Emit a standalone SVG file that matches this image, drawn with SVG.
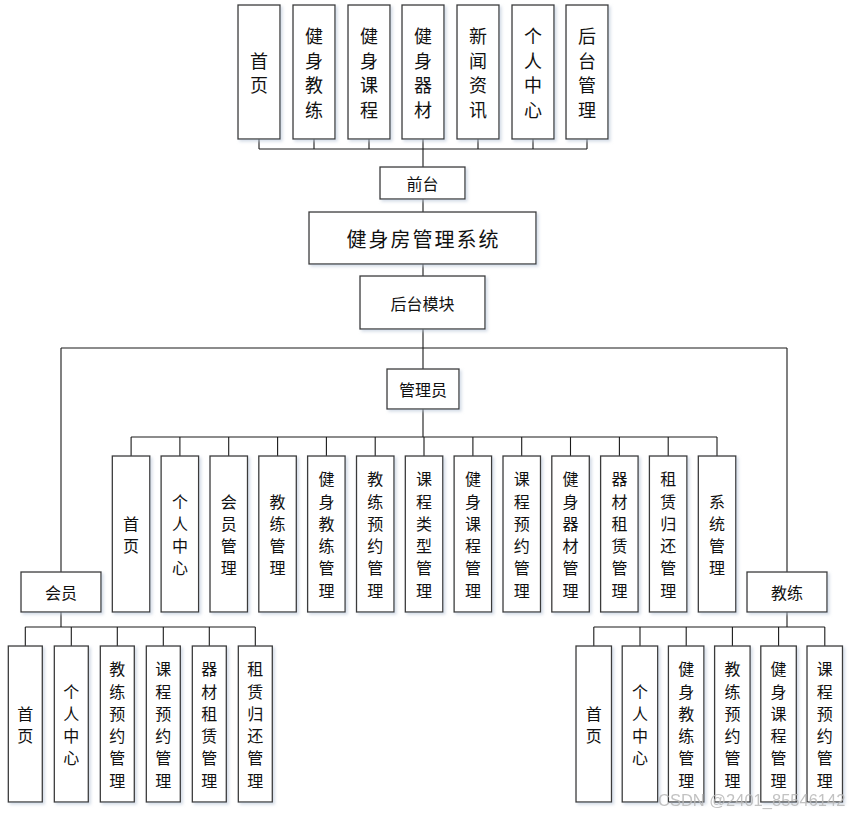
<svg xmlns="http://www.w3.org/2000/svg" width="852" height="815" viewBox="0 0 852 815">
<style>
.b{fill:#fff;stroke:#3a3a3a;stroke-width:1.3;filter:url(#sh)}
.t{font-family:"Noto Sans CJK SC","Noto Sans",sans-serif;fill:#111;text-anchor:middle;dominant-baseline:central}
.f18{font-size:18px}
.f16{font-size:16px}
.c{stroke:#1a1a1a;stroke-width:1.1;fill:none}
.wm{font-family:"Liberation Sans",Arial,sans-serif;font-size:16.5px;fill:#b8b8b8;opacity:0.85}
</style>
<defs>
<filter id="sh" x="-20%" y="-20%" width="140%" height="140%">
<feDropShadow dx="2" dy="2" stdDeviation="1.5" flood-color="#b9c6d8" flood-opacity="0.6"/>
</filter>
</defs>
<rect width="852" height="815" fill="#fff"/>
<g id="connectors" class="c">
<path d="M259 139V149M314 139V149M369 139V149M423 139V149M478 139V149M533 139V149M587 139V149M259 149H587M423 149V167"/>
<path d="M423 199V212M423 264V276M423 329V369M61 348H787M61 348V572M787 348V572"/>
<path d="M423 409V437M131.1 437H717M131.1 437V456M179.9 437V456M228.7 437V456M277.6 437V456M326.4 437V456M375.2 437V456M424 437V456M472.9 437V456M521.7 437V456M570.5 437V456M619.4 437V456M668.2 437V456M717 437V456"/>
<path d="M61 612V627M25.3 627H255.3M25.3 627V646M71.3 627V646M117.3 627V646M163.3 627V646M209.3 627V646M255.3 627V646"/>
<path d="M787 612V627M593.8 627H824.8M593.8 627V646M640 627V646M686.2 627V646M732.4 627V646M778.6 627V646M824.8 627V646"/>
</g>
<g id="f1"><rect class="b" x="238" y="5" width="42" height="134"/><text class="t f18"><tspan x="259" y="59.75">首</tspan><tspan x="259" y="84.25">页</tspan></text></g>
<g id="f2"><rect class="b" x="293" y="5" width="42" height="134"/><text class="t f18"><tspan x="314" y="35.25">健</tspan><tspan x="314" y="59.75">身</tspan><tspan x="314" y="84.25">教</tspan><tspan x="314" y="108.75">练</tspan></text></g>
<g id="f3"><rect class="b" x="348" y="5" width="42" height="134"/><text class="t f18"><tspan x="369" y="35.25">健</tspan><tspan x="369" y="59.75">身</tspan><tspan x="369" y="84.25">课</tspan><tspan x="369" y="108.75">程</tspan></text></g>
<g id="f4"><rect class="b" x="402" y="5" width="42" height="134"/><text class="t f18"><tspan x="423" y="35.25">健</tspan><tspan x="423" y="59.75">身</tspan><tspan x="423" y="84.25">器</tspan><tspan x="423" y="108.75">材</tspan></text></g>
<g id="f5"><rect class="b" x="457" y="5" width="42" height="134"/><text class="t f18"><tspan x="478" y="35.25">新</tspan><tspan x="478" y="59.75">闻</tspan><tspan x="478" y="84.25">资</tspan><tspan x="478" y="108.75">讯</tspan></text></g>
<g id="f6"><rect class="b" x="512" y="5" width="42" height="134"/><text class="t f18"><tspan x="533" y="35.25">个</tspan><tspan x="533" y="59.75">人</tspan><tspan x="533" y="84.25">中</tspan><tspan x="533" y="108.75">心</tspan></text></g>
<g id="f7"><rect class="b" x="566" y="5" width="42" height="134"/><text class="t f18"><tspan x="587" y="35.25">后</tspan><tspan x="587" y="59.75">台</tspan><tspan x="587" y="84.25">管</tspan><tspan x="587" y="108.75">理</tspan></text></g>
<g id="qiantai"><rect class="b" x="380" y="167" width="85" height="32"/><text class="t f16" x="422.5" y="183">前台</text></g>
<g id="system"><rect class="b" x="309" y="212" width="227" height="52"/><text class="t" x="423.5" y="238" style="font-size:20px;letter-spacing:2px">健身房管理系统</text></g>
<g id="houtai"><rect class="b" x="360" y="276" width="125" height="53"/><text class="t f16" x="422.5" y="302.5">后台模块</text></g>
<g id="admin"><rect class="b" x="387" y="369" width="72" height="40"/><text class="t f16" x="423" y="389">管理员</text></g>
<g id="member"><rect class="b" x="21" y="572" width="80" height="40"/><text class="t f16" x="61" y="592">会员</text></g>
<g id="coach"><rect class="b" x="747" y="572" width="80" height="40"/><text class="t f16" x="787" y="592">教练</text></g>
<g id="a1"><rect class="b" x="112.3" y="456" width="37.5" height="156"/><text class="t f16"><tspan x="131.1" y="522.85">首</tspan><tspan x="131.1" y="545.15">页</tspan></text></g>
<g id="a2"><rect class="b" x="161.1" y="456" width="37.5" height="156"/><text class="t f16"><tspan x="179.9" y="500.55">个</tspan><tspan x="179.9" y="522.85">人</tspan><tspan x="179.9" y="545.15">中</tspan><tspan x="179.9" y="567.45">心</tspan></text></g>
<g id="a3"><rect class="b" x="210" y="456" width="37.5" height="156"/><text class="t f16"><tspan x="228.7" y="500.55">会</tspan><tspan x="228.7" y="522.85">员</tspan><tspan x="228.7" y="545.15">管</tspan><tspan x="228.7" y="567.45">理</tspan></text></g>
<g id="a4"><rect class="b" x="258.8" y="456" width="37.5" height="156"/><text class="t f16"><tspan x="277.6" y="500.55">教</tspan><tspan x="277.6" y="522.85">练</tspan><tspan x="277.6" y="545.15">管</tspan><tspan x="277.6" y="567.45">理</tspan></text></g>
<g id="a5"><rect class="b" x="307.6" y="456" width="37.5" height="156"/><text class="t f16"><tspan x="326.4" y="478.25">健</tspan><tspan x="326.4" y="500.55">身</tspan><tspan x="326.4" y="522.85">教</tspan><tspan x="326.4" y="545.15">练</tspan><tspan x="326.4" y="567.45">管</tspan><tspan x="326.4" y="589.75">理</tspan></text></g>
<g id="a6"><rect class="b" x="356.5" y="456" width="37.5" height="156"/><text class="t f16"><tspan x="375.2" y="478.25">教</tspan><tspan x="375.2" y="500.55">练</tspan><tspan x="375.2" y="522.85">预</tspan><tspan x="375.2" y="545.15">约</tspan><tspan x="375.2" y="567.45">管</tspan><tspan x="375.2" y="589.75">理</tspan></text></g>
<g id="a7"><rect class="b" x="405.3" y="456" width="37.5" height="156"/><text class="t f16"><tspan x="424" y="478.25">课</tspan><tspan x="424" y="500.55">程</tspan><tspan x="424" y="522.85">类</tspan><tspan x="424" y="545.15">型</tspan><tspan x="424" y="567.45">管</tspan><tspan x="424" y="589.75">理</tspan></text></g>
<g id="a8"><rect class="b" x="454.1" y="456" width="37.5" height="156"/><text class="t f16"><tspan x="472.9" y="478.25">健</tspan><tspan x="472.9" y="500.55">身</tspan><tspan x="472.9" y="522.85">课</tspan><tspan x="472.9" y="545.15">程</tspan><tspan x="472.9" y="567.45">管</tspan><tspan x="472.9" y="589.75">理</tspan></text></g>
<g id="a9"><rect class="b" x="503" y="456" width="37.5" height="156"/><text class="t f16"><tspan x="521.7" y="478.25">课</tspan><tspan x="521.7" y="500.55">程</tspan><tspan x="521.7" y="522.85">预</tspan><tspan x="521.7" y="545.15">约</tspan><tspan x="521.7" y="567.45">管</tspan><tspan x="521.7" y="589.75">理</tspan></text></g>
<g id="a10"><rect class="b" x="551.8" y="456" width="37.5" height="156"/><text class="t f16"><tspan x="570.5" y="478.25">健</tspan><tspan x="570.5" y="500.55">身</tspan><tspan x="570.5" y="522.85">器</tspan><tspan x="570.5" y="545.15">材</tspan><tspan x="570.5" y="567.45">管</tspan><tspan x="570.5" y="589.75">理</tspan></text></g>
<g id="a11"><rect class="b" x="600.6" y="456" width="37.5" height="156"/><text class="t f16"><tspan x="619.4" y="478.25">器</tspan><tspan x="619.4" y="500.55">材</tspan><tspan x="619.4" y="522.85">租</tspan><tspan x="619.4" y="545.15">赁</tspan><tspan x="619.4" y="567.45">管</tspan><tspan x="619.4" y="589.75">理</tspan></text></g>
<g id="a12"><rect class="b" x="649.4" y="456" width="37.5" height="156"/><text class="t f16"><tspan x="668.2" y="478.25">租</tspan><tspan x="668.2" y="500.55">赁</tspan><tspan x="668.2" y="522.85">归</tspan><tspan x="668.2" y="545.15">还</tspan><tspan x="668.2" y="567.45">管</tspan><tspan x="668.2" y="589.75">理</tspan></text></g>
<g id="a13"><rect class="b" x="698.3" y="456" width="37.5" height="156"/><text class="t f16"><tspan x="717" y="500.55">系</tspan><tspan x="717" y="522.85">统</tspan><tspan x="717" y="545.15">管</tspan><tspan x="717" y="567.45">理</tspan></text></g>
<g id="m1"><rect class="b" x="8.3" y="646" width="34" height="156"/><text class="t f16"><tspan x="25.3" y="712.85">首</tspan><tspan x="25.3" y="735.15">页</tspan></text></g>
<g id="m2"><rect class="b" x="54.3" y="646" width="34" height="156"/><text class="t f16"><tspan x="71.3" y="690.55">个</tspan><tspan x="71.3" y="712.85">人</tspan><tspan x="71.3" y="735.15">中</tspan><tspan x="71.3" y="757.45">心</tspan></text></g>
<g id="m3"><rect class="b" x="100.3" y="646" width="34" height="156"/><text class="t f16"><tspan x="117.3" y="668.25">教</tspan><tspan x="117.3" y="690.55">练</tspan><tspan x="117.3" y="712.85">预</tspan><tspan x="117.3" y="735.15">约</tspan><tspan x="117.3" y="757.45">管</tspan><tspan x="117.3" y="779.75">理</tspan></text></g>
<g id="m4"><rect class="b" x="146.3" y="646" width="34" height="156"/><text class="t f16"><tspan x="163.3" y="668.25">课</tspan><tspan x="163.3" y="690.55">程</tspan><tspan x="163.3" y="712.85">预</tspan><tspan x="163.3" y="735.15">约</tspan><tspan x="163.3" y="757.45">管</tspan><tspan x="163.3" y="779.75">理</tspan></text></g>
<g id="m5"><rect class="b" x="192.3" y="646" width="34" height="156"/><text class="t f16"><tspan x="209.3" y="668.25">器</tspan><tspan x="209.3" y="690.55">材</tspan><tspan x="209.3" y="712.85">租</tspan><tspan x="209.3" y="735.15">赁</tspan><tspan x="209.3" y="757.45">管</tspan><tspan x="209.3" y="779.75">理</tspan></text></g>
<g id="m6"><rect class="b" x="238.3" y="646" width="34" height="156"/><text class="t f16"><tspan x="255.3" y="668.25">租</tspan><tspan x="255.3" y="690.55">赁</tspan><tspan x="255.3" y="712.85">归</tspan><tspan x="255.3" y="735.15">还</tspan><tspan x="255.3" y="757.45">管</tspan><tspan x="255.3" y="779.75">理</tspan></text></g>
<g id="c1"><rect class="b" x="576" y="646" width="35.5" height="156"/><text class="t f16"><tspan x="593.8" y="712.85">首</tspan><tspan x="593.8" y="735.15">页</tspan></text></g>
<g id="c2"><rect class="b" x="622.2" y="646" width="35.5" height="156"/><text class="t f16"><tspan x="640" y="690.55">个</tspan><tspan x="640" y="712.85">人</tspan><tspan x="640" y="735.15">中</tspan><tspan x="640" y="757.45">心</tspan></text></g>
<g id="c3"><rect class="b" x="668.4" y="646" width="35.5" height="156"/><text class="t f16"><tspan x="686.2" y="668.25">健</tspan><tspan x="686.2" y="690.55">身</tspan><tspan x="686.2" y="712.85">教</tspan><tspan x="686.2" y="735.15">练</tspan><tspan x="686.2" y="757.45">管</tspan><tspan x="686.2" y="779.75">理</tspan></text></g>
<g id="c4"><rect class="b" x="714.6" y="646" width="35.5" height="156"/><text class="t f16"><tspan x="732.4" y="668.25">教</tspan><tspan x="732.4" y="690.55">练</tspan><tspan x="732.4" y="712.85">预</tspan><tspan x="732.4" y="735.15">约</tspan><tspan x="732.4" y="757.45">管</tspan><tspan x="732.4" y="779.75">理</tspan></text></g>
<g id="c5"><rect class="b" x="760.8" y="646" width="35.5" height="156"/><text class="t f16"><tspan x="778.6" y="668.25">健</tspan><tspan x="778.6" y="690.55">身</tspan><tspan x="778.6" y="712.85">课</tspan><tspan x="778.6" y="735.15">程</tspan><tspan x="778.6" y="757.45">管</tspan><tspan x="778.6" y="779.75">理</tspan></text></g>
<g id="c6"><rect class="b" x="807" y="646" width="35.5" height="156"/><text class="t f16"><tspan x="824.8" y="668.25">课</tspan><tspan x="824.8" y="690.55">程</tspan><tspan x="824.8" y="712.85">预</tspan><tspan x="824.8" y="735.15">约</tspan><tspan x="824.8" y="757.45">管</tspan><tspan x="824.8" y="779.75">理</tspan></text></g>
<text class="wm" x="658" y="806">CSDN @2401_85546142</text>
</svg>
